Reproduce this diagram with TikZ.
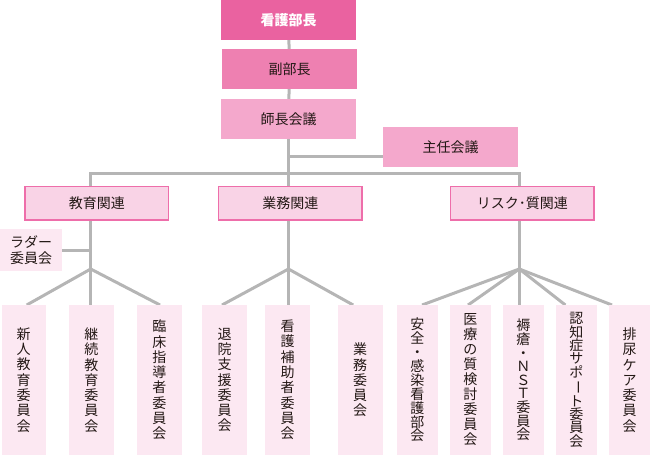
\documentclass[tikz,border=0pt]{standalone}
\usepackage{fontspec}
\usepackage{graphicx}
\setmainfont{Noto Sans CJK JP}
\usetikzlibrary{backgrounds}
\definecolor{cboss}{HTML}{EA62A0}
\definecolor{cvice}{HTML}{EE80B1}
\definecolor{ccouncil}{HTML}{F4A8CC}
\definecolor{cgroup}{HTML}{F9D3E6}
\definecolor{cgroupline}{HTML}{EE6EAA}
\definecolor{cleaf}{HTML}{FCE8F2}
\definecolor{cline}{HTML}{B5B5B5}
\definecolor{ctext}{HTML}{231815}
\newcommand{\vbar}{\rotatebox[origin=c]{-90}{ー}}
\begin{document}
\begin{tikzpicture}[x=1pt,y=-1pt,
  base/.style={anchor=north west,inner sep=0pt,outer sep=0pt,text=ctext,font=\fontsize{14pt}{15.3pt}\selectfont},
  topbox/.style={base,fill=cboss,text=white,font=\fontsize{14pt}{15.3pt}\selectfont\bfseries,minimum width=135pt,minimum height=40pt},
  vicebox/.style={base,fill=cvice,minimum width=135pt,minimum height=40pt},
  councilbox/.style={base,fill=ccouncil,minimum width=135pt,minimum height=40pt},
  groupbox/.style={base,fill=cgroup,draw=cgroupline,line width=1.5pt,minimum width=143.5pt,minimum height=33.5pt},
  leafbox/.style={base,fill=cleaf,minimum height=150pt,align=center},
  pitch/.style={font=\fontsize{14pt}{#1pt}\selectfont},
  conn/.style={draw=cline,line width=3pt}]
\useasboundingbox (0,0) rectangle (650,455);
% top hierarchy
\node[topbox] (boss) at (221,0) {看護部長};
\node[vicebox] (vice) at (222,49) {副部長};
\node[councilbox] (council) at (221,99) {師長会議};
\node[councilbox] (chief) at (383,127) {主任会議};
% groups
\node[groupbox] (edu) at (25,186.7) {教育関連};
\node[groupbox] (work) at (218.5,186.7) {業務関連};
\node[groupbox] (risk) at (450.5,186.7) {リスク･質関連};
\node[leafbox,minimum width=62pt,minimum height=42pt,pitch=16.6] (ladder) at (0,229) {ラダー\\委員会};
% leaves
\node[leafbox,minimum width=44pt] (l1) at (1.7,305) {新\\人\\教\\育\\委\\員\\会};
\node[leafbox,minimum width=44.7pt] (l2) at (69,305) {継\\続\\教\\育\\委\\員\\会};
\node[leafbox,minimum width=44.7pt] (l3) at (137,305) {臨\\床\\指\\導\\者\\委\\員\\会};
\node[leafbox,minimum width=44.4pt] (l4) at (202.3,305) {退\\院\\支\\援\\委\\員\\会};
\node[leafbox,minimum width=44.7pt] (l5) at (265.3,305) {看\\護\\補\\助\\者\\委\\員\\会};
\node[leafbox,minimum width=45pt] (l6) at (337.7,305) {業\\務\\委\\員\\会};
\node[leafbox,minimum width=40.7pt,pitch=13.9] (l7) at (397,305) {安\\全\\・\\感\\染\\看\\護\\部\\会};
\node[leafbox,minimum width=40.7pt,pitch=15] (l8) at (450,305) {医\\療\\の\\質\\検\\討\\委\\員\\会};
\node[leafbox,minimum width=40.7pt,pitch=13.6] (l9) at (503,305) {褥\\瘡\\・\\Ｎ\\Ｓ\\Ｔ\\委\\員\\会};
\node[leafbox,minimum width=40.7pt,pitch=13.3] (l10) at (556,305) {認\\知\\症\\サ\\ポ\\\vbar\\ト\\委\\員\\会};
\node[leafbox,minimum width=41pt] (l11) at (609,305) {排\\尿\\ケ\\ア\\委\\員\\会};
% connector points
\coordinate (bar) at (288.5,173.3);
\coordinate (jn) at (288.5,156);
\coordinate (fan1) at (90.7,269);
\coordinate (fan2) at (288.5,269);
\coordinate (fan3) at (519.3,269);
\begin{pgfonlayer}{background}
\draw[conn] (boss) -- (vice);
\draw[conn] (vice) -- (council);
\draw[conn] (council.south) -- (bar);
\draw[conn] (jn) -- (chief.west |- jn);
\draw[conn] (fan1 |- edu.north) -- (fan1 |- bar) -- (fan3 |- bar) -- (fan3 |- risk.north);
\draw[conn] (fan2 |- work.north) -- (bar);
\draw[conn] (fan1 |- edu.south) -- (fan1);
\draw[conn] (fan2 |- work.south) -- (fan2);
\draw[conn] (fan3 |- risk.south) -- (fan3);
\draw[conn] (ladder.east) -- (ladder.east -| fan1);
\draw[conn] (fan1) -- ([xshift=3pt]l1.north);
\draw[conn] (fan1) -- (fan1 |- l2.north);
\draw[conn] (fan1) -- ([xshift=0.7pt]l3.north);
\draw[conn] (fan2) -- ([xshift=-2.5pt]l4.north);
\draw[conn] (fan2) -- (fan2 |- l5.north);
\draw[conn] (fan2) -- ([xshift=-7pt]l6.north);
\draw[conn] (fan3) -- ([xshift=4.7pt]l7.north);
\draw[conn] (fan3) -- ([xshift=-2.3pt]l8.north);
\draw[conn] (fan3) -- (fan3 |- l9.north);
\draw[conn] (fan3) -- ([xshift=-11pt]l10.north);
\draw[conn] (fan3) -- ([xshift=-17.5pt]l11.north);
\end{pgfonlayer}
\end{tikzpicture}
\end{document}
